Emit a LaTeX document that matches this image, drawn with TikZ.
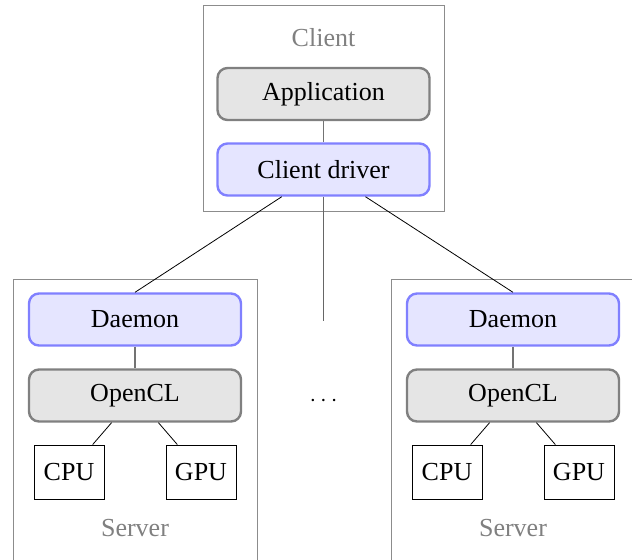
\documentclass[tikz,border=0pt]{standalone}
\usepackage{fontspec}
\setmainfont{Liberation Serif}
\begin{document}
\begin{tikzpicture}[x=0.5pt,y=-0.5pt,
  every node/.style={font=\fontsize{13}{15}\selectfont},
  grayblock/.style={draw=black!50,fill=black!10,very thick,rounded corners=5pt,minimum width=106pt,minimum height=26pt,inner sep=0pt},
  blueblock/.style={draw=blue!50,fill=blue!10,very thick,rounded corners=5pt,minimum width=106pt,minimum height=26pt,inner sep=0pt},
  devbox/.style={draw=black,thin,minimum width=35pt,minimum height=27pt,inner sep=0pt},
  container/.style={draw=black!45,thin},
  grouplabel/.style={text=black!50},
  glink/.style={draw=black!55,thick},
  blink/.style={draw=black,thin}]
\useasboundingbox (0,0) rectangle (632,559);
\clip (0,0) rectangle (632,559);
% containers
\draw[container] (203,5) rectangle (444,211);
\draw[container] (13.5,279) rectangle (257,620);
\draw[container] (391,279) rectangle (700,620);
\node[grouplabel] (lc) at (323.5,38) {Client};
\node[grouplabel] (ls1) at (135,528) {Server};
\node[grouplabel] (ls2) at (513,528) {Server};
% client
\node[grayblock] (app) at (323.5,94) {Application};
\node[blueblock] (cd) at (323.5,169.5) {Client driver};
% left server
\node[blueblock] (d1) at (135,319.5) {Daemon};
\node[grayblock] (o1) at (135,395.5) {OpenCL};
\node[devbox] (c1) at (69,472) {CPU};
\node[devbox] (g1) at (201,472) {GPU};
% right server
\node[blueblock] (d2) at (513,319.5) {Daemon};
\node[grayblock] (o2) at (513,395.5) {OpenCL};
\node[devbox] (c2) at (447,472) {CPU};
\node[devbox] (g2) at (579,472) {GPU};
\node (dots) at (323.5,401) {$\cdots$};
\coordinate (mid) at (323.5,321);
% connectors
\draw[glink] (app) -- (cd);
\draw[blink] (cd) -- (d1.north);
\draw[blink] (cd) -- (d2.north);
\draw[draw=black!60,thick] (cd) -- (mid);
\draw[glink] (d1) -- (o1);
\draw[glink] (d2) -- (o2);
\draw[blink] (o1) -- (c1);
\draw[blink] (o1) -- (g1);
\draw[blink] (o2) -- (c2);
\draw[blink] (o2) -- (g2);
\end{tikzpicture}
\end{document}
